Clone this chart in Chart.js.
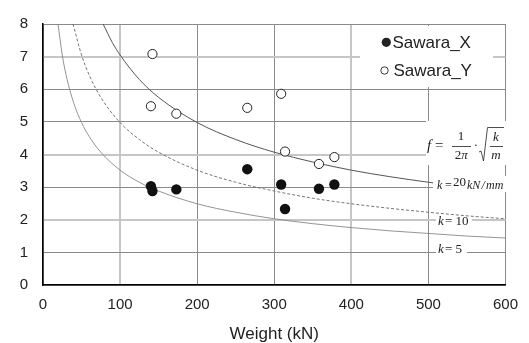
<!DOCTYPE html>
<html>
<head>
<meta charset="utf-8">
<script src="https://cdn.jsdelivr.net/npm/chart.js@4.4.1/dist/chart.umd.min.js"></script>
<style>
  html, body { margin: 0; padding: 0; background: #fff; }
</style>
</head>
<body>
<canvas id="myChart" width="529" height="343"></canvas>
<script>
// Measured natural frequency (Hz) against weight (kN)
var weightX = [140, 142, 173, 265, 309, 314, 358, 378];
var freqX   = [3.03, 2.88, 2.93, 3.55, 3.08, 2.33, 2.95, 3.08];
var weightY = [142, 140, 173, 265, 309, 314, 358, 378];
var freqY   = [7.08, 5.48, 5.25, 5.43, 5.86, 4.09, 3.71, 3.92];
var seriesNames = ["Sawara_X", "Sawara_Y"];

// Reference curves: k = 20, 10, 5 kN/mm
var curveW20 = [78, 90, 100, 125, 150, 200, 250, 300, 350, 400, 450, 500, 550, 600];
var curveF20 = [8.0, 7.43, 7.05, 6.30, 5.75, 4.98, 4.46, 4.07, 3.77, 3.52, 3.32, 3.15, 3.00, 2.88];
var curveW10 = [39, 50, 60, 75, 100, 125, 150, 200, 250, 300, 350, 400, 450, 500, 550, 600];
var curveF10 = [8.0, 7.05, 6.43, 5.75, 4.98, 4.46, 4.07, 3.52, 3.15, 2.88, 2.66, 2.49, 2.35, 2.23, 2.12, 2.03];
var curveW5  = [19.5, 25, 30, 40, 50, 60, 75, 100, 125, 150, 200, 250, 300, 350, 400, 450, 500, 550, 600];
var curveF5  = [8.0, 7.05, 6.43, 5.57, 4.98, 4.55, 4.07, 3.52, 3.15, 2.88, 2.49, 2.23, 2.03, 1.88, 1.76, 1.66, 1.58, 1.50, 1.44];

// Axis ticks
var xTicks = [0, 100, 200, 300, 400, 500, 600];
var yTicks = [0, 1, 2, 3, 4, 5, 6, 7, 8];

function pairs(ws, fs) {
  return ws.map(function (w, i) { return { x: w, y: fs[i] }; });
}

// grid lines come out in two shades in the original
var lightX = [100, 400];
var lightY = [2, 4, 7];
function gridColor(light) {
  return function (c) {
    return light.indexOf(c.tick.value) >= 0 ? "#c6c6c6" : "#8a8a8a";
  };
}
function gridWidth(light) {
  return function (c) {
    return light.indexOf(c.tick.value) >= 0 ? 2 : 1;
  };
}

var serif = "'Liberation Serif', 'DejaVu Serif', serif";
var sans = "'Liberation Sans', Arial, sans-serif";

// white label boxes, formula, k labels and legend
var notes = {
  id: "notes",
  beforeDatasetsDraw: function (chart) {
    var ctx = chart.ctx;
    ctx.save();
    ctx.fillStyle = "#fff";
    ctx.fillRect(360, 26, 133, 61);   // legend
    ctx.fillRect(426, 121, 80.5, 44); // formula
    ctx.fillRect(436, 215, 36, 13);   // k = 10
    ctx.fillRect(436, 243, 31, 13);   // k = 5
    ctx.restore();
  },
  afterDatasetsDraw: function (chart) {
    var ctx = chart.ctx;
    ctx.save();
    ctx.fillStyle = "#fff";
    ctx.fillRect(433, 176, 73.5, 16); // k = 20 label

    ctx.fillStyle = "#222";
    ctx.strokeStyle = "#222";
    ctx.textBaseline = "middle";

    // f = 1/(2pi) . sqrt(k/m)
    ctx.textAlign = "left";
    ctx.font = "italic 15px " + serif;
    ctx.fillText("f", 427, 146);
    ctx.font = "15px " + serif;
    ctx.fillText("=", 435, 146);
    ctx.textAlign = "center";
    ctx.font = "13px " + serif;
    ctx.fillText("1", 461, 137);
    ctx.fillText("2", 458, 155.5);
    ctx.font = "italic 13px " + serif;
    ctx.fillText("\u03c0", 464.5, 155.5);
    ctx.fillText("k", 496, 137.5);
    ctx.fillText("m", 496, 155.5);
    ctx.font = "13px " + serif;
    ctx.fillText("\u00b7", 476, 146);
    ctx.lineWidth = 0.8;
    ctx.beginPath();
    ctx.moveTo(452, 146.5); ctx.lineTo(471, 146.5);
    ctx.moveTo(490, 146.5); ctx.lineTo(503, 146.5);
    ctx.stroke();
    ctx.beginPath();
    ctx.moveTo(479, 152); ctx.lineTo(481, 151);
    ctx.lineTo(483.5, 161); ctx.lineTo(487.5, 127.5); ctx.lineTo(504, 127.5);
    ctx.stroke();

    // k labels
    ctx.textAlign = "left";
    ctx.font = "italic 12px " + serif;
    ctx.fillText("k", 437, 185.5);
    ctx.font = "12px " + serif;
    ctx.fillText("=", 445, 185.5);
    ctx.font = "13px " + serif;
    ctx.fillText("20", 453, 182.5);
    ctx.font = "italic 12px " + serif;
    ctx.fillText("kN", 467, 185.5);
    ctx.fillText("/", 481.5, 185.5);
    ctx.fillText("mm", 486, 185.5);

    ctx.font = "italic 13px " + serif;
    ctx.fillText("k", 438, 222);
    ctx.fillText("k", 438, 249.5);
    ctx.font = "13px " + serif;
    ctx.fillText("= 10", 445, 222);
    ctx.fillText("= 5", 445, 249.5);

    // legend
    var ds = chart.data.datasets;
    ctx.font = "17px " + sans;
    ctx.beginPath();
    ctx.arc(386.3, 42.3, 4.6, 0, Math.PI * 2);
    ctx.fill();
    ctx.fillText(ds[0].label, 392.5, 43);
    ctx.beginPath();
    ctx.lineWidth = 0.9;
    ctx.arc(384.5, 70.5, 3.7, 0, Math.PI * 2);
    ctx.stroke();
    ctx.fillText(ds[1].label, 393.5, 71);
    ctx.restore();
  }
};

var ctx = document.getElementById("myChart");
var chart = new Chart(ctx, {
  type: "scatter",
  data: {
    datasets: [
      {
        label: seriesNames[0],
        data: pairs(weightX, freqX),
        pointStyle: "circle",
        pointRadius: 5.2,
        backgroundColor: "#111",
        borderColor: "#111",
        borderWidth: 0
      },
      {
        label: seriesNames[1],
        data: pairs(weightY, freqY),
        pointStyle: "circle",
        pointRadius: 4.6,
        backgroundColor: "#fff",
        borderColor: "#222",
        borderWidth: 1
      },
      {
        label: "k=20",
        data: pairs(curveW20, curveF20),
        showLine: true,
        pointRadius: 0,
        borderColor: "#555",
        borderWidth: 1,
        cubicInterpolationMode: "monotone"
      },
      {
        label: "k=10",
        data: pairs(curveW10, curveF10),
        showLine: true,
        pointRadius: 0,
        borderColor: "#666",
        borderWidth: 0.9,
        borderDash: [3, 2],
        cubicInterpolationMode: "monotone"
      },
      {
        label: "k=5",
        data: pairs(curveW5, curveF5),
        showLine: true,
        pointRadius: 0,
        borderColor: "#888",
        borderWidth: 0.9,
        cubicInterpolationMode: "monotone"
      }
    ]
  },
  options: {
    responsive: false,
    animation: false,
    events: [],
    layout: { padding: { top: 16, right: 21, left: 0, bottom: 0 } },
    plugins: { legend: { display: false }, tooltip: { enabled: false } },
    scales: {
      x: {
        type: "linear",
        min: 0,
        max: 600,
        afterBuildTicks: function (s) { s.ticks = xTicks.map(function (v) { return { value: v }; }); },
        afterFit: function (s) { s.height = 58; },
        ticks: { padding: 11, color: "#222", font: { family: sans, size: 15 } },
        grid: { drawTicks: false, color: gridColor(lightX), lineWidth: gridWidth(lightX) },
        border: { color: "#000", width: 1.5 },
        title: {
          display: true,
          text: "Weight (kN)",
          color: "#222",
          padding: 0,
          font: { family: sans, size: 17, lineHeight: 1 }
        }
      },
      y: {
        type: "linear",
        min: 0,
        max: 8,
        afterBuildTicks: function (s) { s.ticks = yTicks.map(function (v) { return { value: v }; }); },
        afterFit: function (s) { s.width = 43; },
        ticks: { padding: 15, color: "#222", font: { family: sans, size: 15 } },
        grid: { drawTicks: false, color: gridColor(lightY), lineWidth: gridWidth(lightY) },
        border: { color: "#000", width: 1.5 }
      }
    }
  },
  plugins: [notes]
});
</script>
</body>
</html>
